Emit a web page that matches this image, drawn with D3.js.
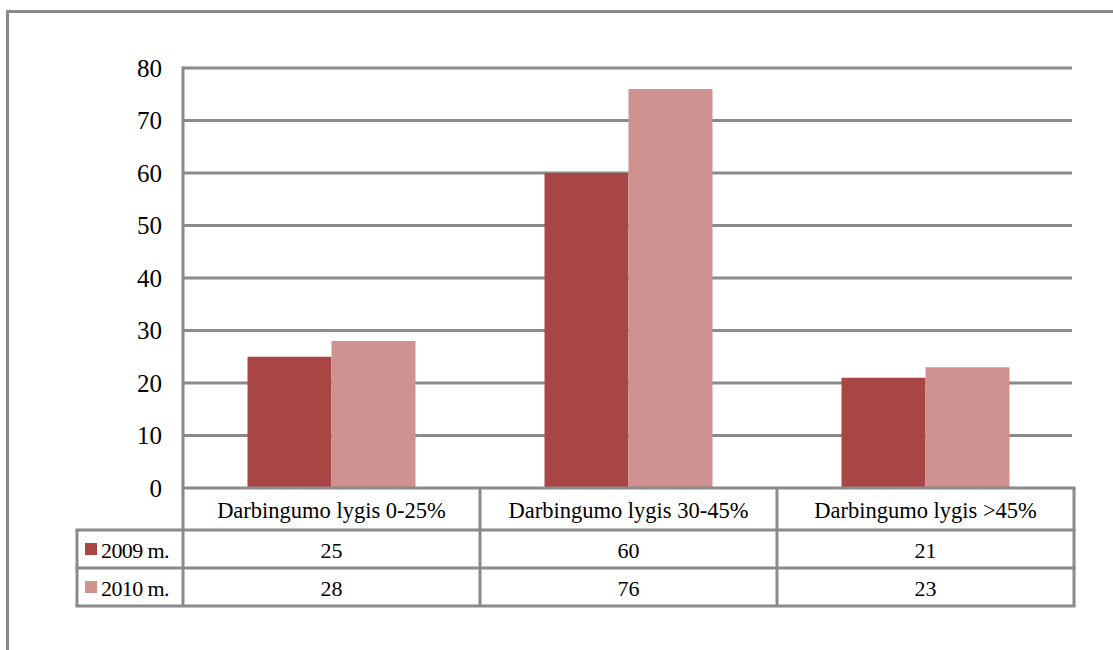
<!DOCTYPE html>
<html>
<head>
<meta charset="utf-8">
<script src="https://cdn.jsdelivr.net/npm/d3@7"></script>
<style>
  html, body { margin: 0; padding: 0; background: #fff; }
  svg { display: block; }
  text { font-family: "Liberation Serif", "Times New Roman", serif; fill: #000; }
</style>
</head>
<body>
<svg id="chart" width="1113" height="650"></svg>
<script>
const categories = ["Darbingumo lygis 0-25%", "Darbingumo lygis 30-45%", "Darbingumo lygis >45%"];
const seriesNames = ["2009 m.", "2010 m."];
const values2009 = [25, 60, 21];
const values2010 = [28, 76, 23];
const yTicks = [0, 10, 20, 30, 40, 50, 60, 70, 80];
const colors = ["#A94645", "#D09291"];

const seriesValues = [values2009, values2010];

const svg = d3.select("#chart");
const lineColor = "#8a8a8a";

// outer frame
svg.append("rect")
  .attr("x", 7.5).attr("y", 11.5)
  .attr("width", 1130).attr("height", 700)
  .attr("fill", "none").attr("stroke", lineColor).attr("stroke-width", 3);

const plotLeft = 183, plotRight = 1074, plotTop = 68, plotBottom = 488;

const x0 = d3.scaleBand().domain(categories).range([plotLeft, plotRight]).padding(0);
const x1 = d3.scaleBand().domain(seriesNames).range([0, x0.bandwidth()]).paddingInner(0).paddingOuter(0.768);
const y = d3.scaleLinear().domain([0, 80]).range([plotBottom, plotTop]);

// gridlines
svg.append("g").selectAll("line").data(yTicks.filter(t => t > 0)).join("line")
  .attr("x1", plotLeft).attr("x2", 1072)
  .attr("y1", d => y(d)).attr("y2", d => y(d))
  .attr("stroke", lineColor).attr("stroke-width", 3);

// bars
const groups = svg.append("g").selectAll("g").data(categories).join("g")
  .attr("transform", d => `translate(${x0(d)},0)`);
groups.selectAll("rect")
  .data((c, i) => seriesNames.map((s, j) => ({ s, v: seriesValues[j][i], j })))
  .join("rect")
  .attr("x", d => x1(d.s))
  .attr("y", d => y(d.v))
  .attr("width", x1.bandwidth())
  .attr("height", d => y(0) - y(d.v))
  .attr("fill", d => colors[d.j]);

// y axis labels
const yAxis = d3.axisLeft(y).tickValues(yTicks).tickSize(0).tickPadding(21);
const yg = svg.append("g").attr("transform", `translate(${plotLeft},0)`).call(yAxis);
yg.select(".domain").remove();
yg.selectAll("text").style("font-size", "25px").style("font-family", "'Liberation Serif', serif");

// axis vertical line
svg.append("line").attr("x1", plotLeft).attr("x2", plotLeft)
  .attr("y1", plotTop - 1.5).attr("y2", plotBottom)
  .attr("stroke", lineColor).attr("stroke-width", 3);

// data table
const rowY = [488, 530, 568, 606];
const tableLeft = 77;
const tg = svg.append("g");
// horizontal lines
tg.append("line").attr("x1", plotLeft - 1.5).attr("x2", plotRight + 1.5).attr("y1", rowY[0]).attr("y2", rowY[0])
  .attr("stroke", lineColor).attr("stroke-width", 3);
[rowY[1], rowY[2], rowY[3]].forEach(yy => {
  tg.append("line").attr("x1", tableLeft - 1.5).attr("x2", plotRight + 1.5).attr("y1", yy).attr("y2", yy)
    .attr("stroke", lineColor).attr("stroke-width", 3);
});
// vertical lines
const colEdges = [plotLeft].concat(categories.map(c => x0(c) + x0.bandwidth()));
colEdges.forEach(xx => {
  tg.append("line").attr("x1", xx).attr("x2", xx).attr("y1", rowY[0]).attr("y2", rowY[3])
    .attr("stroke", lineColor).attr("stroke-width", 3);
});
tg.append("line").attr("x1", tableLeft).attr("x2", tableLeft).attr("y1", rowY[1]).attr("y2", rowY[3])
  .attr("stroke", lineColor).attr("stroke-width", 3);

// category labels
tg.selectAll("text.cat").data(categories).join("text").attr("class", "cat")
  .attr("x", d => x0(d) + x0.bandwidth() / 2)
  .attr("y", (rowY[0] + rowY[1]) / 2 + 1)
  .attr("text-anchor", "middle").attr("dominant-baseline", "central")
  .style("font-size", "22.5px")
  .text(d => d);

// series rows
seriesNames.forEach((s, j) => {
  const cy = (rowY[j + 1] + rowY[j + 2]) / 2 + 1;
  tg.append("rect").attr("x", 85).attr("y", cy - 7).attr("width", 12).attr("height", 12)
    .attr("fill", colors[j]);
  tg.append("text").attr("x", 101).attr("y", cy)
    .attr("dominant-baseline", "central").style("font-size", "22px")
    .style("letter-spacing", "-0.6px")
    .text(s);
  tg.selectAll(null).data(categories).join("text")
    .attr("x", d => x0(d) + x0.bandwidth() / 2)
    .attr("y", cy)
    .attr("text-anchor", "middle").attr("dominant-baseline", "central")
    .style("font-size", "22px")
    .text((d, i) => seriesValues[j][i]);
});
</script>
</body>
</html>
